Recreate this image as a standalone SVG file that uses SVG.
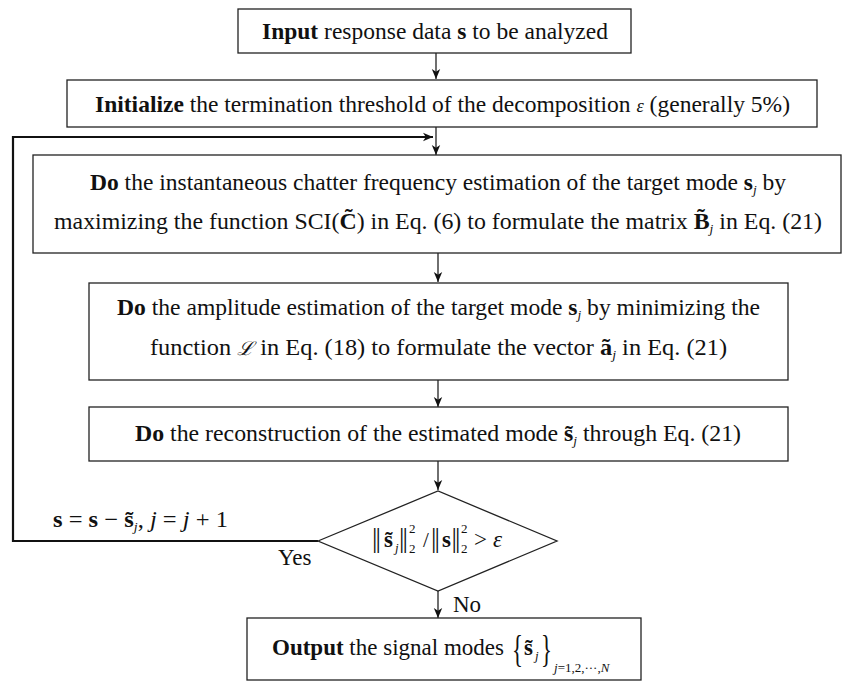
<svg xmlns="http://www.w3.org/2000/svg" width="843" height="682" viewBox="0 0 843 682">
<style>
text{font-family:"Liberation Serif","Times New Roman",serif;font-size:23px;fill:#111}
.b{font-weight:bold}
.i{font-style:italic}
.sub{font-size:13px;font-style:italic}
.sm{font-size:13px}
.bar{font-size:27px;letter-spacing:-1.8px}
.brace{font-size:38px}
.box{fill:#fff;stroke:#222;stroke-width:1.3}
.ln{fill:none;stroke:#222;stroke-width:1.3}
.loop{fill:none;stroke:#111;stroke-width:2.2}
</style>
<defs>
<marker id="ah" viewBox="0 0 10 10" refX="10" refY="5" markerWidth="10" markerHeight="10" markerUnits="userSpaceOnUse" orient="auto">
<path d="M0,0.8 L10,5 L0,9.2 L2.8,5 z" fill="#111"/>
</marker>
</defs>
<rect width="843" height="682" fill="#fff"/>

<g id="connectors">
<line class="ln" x1="436" y1="53" x2="436" y2="79" marker-end="url(#ah)"/>
<line class="ln" x1="436" y1="127" x2="436" y2="155" marker-end="url(#ah)"/>
<polyline class="loop" points="318,541 13,541 13,137 433,137" marker-end="url(#ah)"/>
<line class="ln" x1="438" y1="253" x2="438" y2="282" marker-end="url(#ah)"/>
<line class="ln" x1="438" y1="380" x2="438" y2="407" marker-end="url(#ah)"/>
<line class="ln" x1="438" y1="461" x2="438" y2="490" marker-end="url(#ah)"/>
<line class="ln" x1="438" y1="591" x2="438" y2="618" marker-end="url(#ah)"/>
<text x="53" y="527" textLength="175" lengthAdjust="spacingAndGlyphs"><tspan class="b">s</tspan> = <tspan class="b">s</tspan> − <tspan class="b">s̃</tspan><tspan class="sub" dy="4">j</tspan><tspan dy="-4">,  </tspan><tspan class="i">j</tspan> = <tspan class="i">j</tspan> + 1</text>
<text x="278" y="565">Yes</text>
<text x="453" y="612">No</text>
</g>

<g id="input">
<rect class="box" x="238" y="9" width="393" height="44"/>
<text x="262" y="39" textLength="346" lengthAdjust="spacingAndGlyphs"><tspan class="b">Input</tspan> response data  <tspan class="b">s</tspan>  to be analyzed</text>
</g>

<g id="initialize">
<rect class="box" x="67" y="80" width="750" height="47"/>
<text x="95" y="112" textLength="695" lengthAdjust="spacingAndGlyphs"><tspan class="b">Initialize</tspan> the termination threshold of the decomposition  <tspan class="i" style="font-size:18px">ε</tspan> (generally 5%)</text>
</g>

<g id="frequency">
<rect class="box" x="33" y="155" width="808" height="98"/>
<text x="90" y="190" textLength="696" lengthAdjust="spacingAndGlyphs"><tspan class="b">Do</tspan> the instantaneous chatter frequency estimation of the target mode  <tspan class="b">s</tspan><tspan class="sub" dy="4">j</tspan><tspan dy="-4"> by</tspan></text>
<text x="54" y="229" textLength="768" lengthAdjust="spacingAndGlyphs">maximizing the function  SCI(<tspan class="b">C̃</tspan>)  in Eq. (6) to formulate the matrix  <tspan class="b">B̃</tspan><tspan class="sub" dy="4">j</tspan><tspan dy="-4">  in Eq. (21)</tspan></text>
</g>

<g id="amplitude">
<rect class="box" x="89" y="283" width="699" height="97"/>
<text x="117" y="315" textLength="643" lengthAdjust="spacingAndGlyphs"><tspan class="b">Do</tspan> the amplitude estimation of the target mode  <tspan class="b">s</tspan><tspan class="sub" dy="4">j</tspan><tspan dy="-4"> by minimizing the</tspan></text>
<text x="150" y="355" textLength="577" lengthAdjust="spacingAndGlyphs">function  <tspan class="i" style="font-family:'DejaVu Serif',serif;font-size:19px">ℒ</tspan>  in Eq. (18) to formulate the vector  <tspan class="b">ã</tspan><tspan class="sub" dy="4">j</tspan><tspan dy="-4">  in Eq. (21)</tspan></text>
</g>

<g id="reconstruction">
<rect class="box" x="89" y="407" width="699" height="54"/>
<text x="135" y="441" textLength="606" lengthAdjust="spacingAndGlyphs"><tspan class="b">Do</tspan> the reconstruction of the estimated mode  <tspan class="b">s̃</tspan><tspan class="sub" dy="4">j</tspan><tspan dy="-4">  through Eq. (21)</tspan></text>
</g>

<g id="decision">
<polygon class="box" points="318,541 438,491 557,541 438,591"/>
<text x="372" y="547" class="bar">||</text>
<text x="384" y="547" class="b">s̃</text>
<text x="395" y="552" class="sub">j</text>
<text x="399" y="547" class="bar">||</text>
<text x="409" y="533" class="sm">2</text>
<text x="409" y="553" class="sm">2</text>
<text x="423" y="547" style="font-size:21px">/</text>
<text x="431" y="547" class="bar">||</text>
<text x="442" y="547" class="b">s</text>
<text x="451.5" y="547" class="bar">||</text>
<text x="461" y="533" class="sm">2</text>
<text x="461" y="553" class="sm">2</text>
<text x="474" y="547">&gt;</text>
<text x="493" y="547" class="i">ε</text>
</g>

<g id="output">
<rect class="box" x="247" y="618" width="394" height="62"/>
<text x="272" y="655"><tspan class="b">Output</tspan> the signal modes</text>
<text transform="translate(512,662) scale(0.6,1)" class="brace">{</text>
<text x="524" y="655" class="b">s̃</text>
<text x="535" y="660" class="sub">j</text>
<text transform="translate(541,662) scale(0.6,1)" class="brace">}</text>
<text x="554" y="672" class="sub">j<tspan style="font-style:normal">=1,2,···,</tspan>N</text>
</g>
</svg>
